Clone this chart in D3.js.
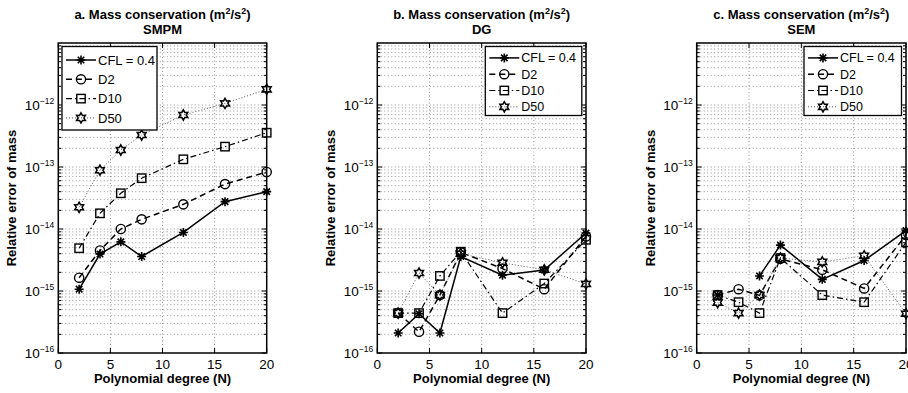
<!DOCTYPE html>
<html>
<head>
<meta charset="utf-8">
<script src="https://cdn.jsdelivr.net/npm/d3@7"></script>
<style>
  body { margin: 0; background: #fff; }
  text { font-family: "Liberation Sans", Arial, Helvetica, sans-serif; fill: #000; }
</style>
</head>
<body>
<svg width="908" height="393"></svg>
<script>
// polynomial degrees on the x axis
const degrees = [2, 4, 6, 8, 12, 16, 20];
const seriesNames = ["CFL = 0.4", "D2", "D10", "D50"];
const xTicks = [0, 5, 10, 15, 20];
const yDecades = [-16, -15, -14, -13, -12];

// a. SMPM
const smpmCFL = [1.07e-15, 3.95e-15, 6.2e-15, 3.6e-15, 8.8e-15, 2.76e-14, 4.0e-14];
const smpmD2  = [1.64e-15, 4.5e-15, 1.0e-14, 1.43e-14, 2.5e-14, 5.3e-14, 8.3e-14];
const smpmD10 = [4.9e-15, 1.79e-14, 3.77e-14, 6.6e-14, 1.33e-13, 2.13e-13, 3.57e-13];
const smpmD50 = [2.24e-14, 8.9e-14, 1.88e-13, 3.28e-13, 6.9e-13, 1.06e-12, 1.79e-12];

// b. DG
const dgCFL = [2.1e-16, 4.3e-16, 2.1e-16, 3.6e-15, 1.8e-15, 2.18e-15, 8.6e-15];
const dgD2  = [4.4e-16, 2.2e-16, 8.6e-16, 4.2e-15, 2.3e-15, 1.07e-15, 7.6e-15];
const dgD10 = [4.4e-16, 4.4e-16, 1.75e-15, 4.3e-15, 4.4e-16, 1.32e-15, 6.7e-15];
const dgD50 = [4.4e-16, 1.95e-15, 8.6e-16, 4.0e-15, 2.85e-15, 2.2e-15, 1.3e-15];

// c. SEM (null = not plotted)
const semCFL = [8.6e-16, null, 1.75e-15, 5.5e-15, 1.54e-15, 3.1e-15, 9.4e-15];
const semD2  = [8.6e-16, 1.07e-15, 8.5e-16, 3.3e-15, 2.2e-15, 1.1e-15, 8.0e-15];
const semD10 = [8.6e-16, 6.6e-16, 4.4e-16, 3.4e-15, 8.6e-16, 6.6e-16, 6.1e-15];
const semD50 = [6.5e-16, 4.4e-16, 8.6e-16, 3.4e-15, 2.95e-15, 3.7e-15, 4.3e-16];

const panels = [
  { title: "a. Mass conservation", method: "SMPM", left: 58.3, right: 266.7,
    series: [smpmCFL, smpmD2, smpmD10, smpmD50],
    legend: { x: 62, y: 46.5, w: 95, h: 83.5, row: 19.3, fs: 13 } },
  { title: "b. Mass conservation", method: "DG", left: 377.3, right: 586,
    series: [dgCFL, dgD2, dgD10, dgD50],
    legend: { x: 485.3, y: 46.5, w: 96.5, h: 69, row: 16.3, fs: 12.5 } },
  { title: "c. Mass conservation", method: "SEM", left: 696.7, right: 906,
    series: [semCFL, semD2, semD10, semD50],
    legend: { x: 804, y: 46.5, w: 97.5, h: 69, row: 16.3, fs: 12.5 } }
];

const plotTop = 43, plotBottom = 353;
const styles = [
  { dash: null, width: 1.5, color: "#000", marker: "asterisk" },
  { dash: "6,4", width: 1.5, color: "#000", marker: "circle" },
  { dash: "6,3,1.5,3", width: 1.2, color: "#000", marker: "square" },
  { dash: "1,2", width: 1, color: "#555", marker: "hexagram" }
];

const svg = d3.select("svg");

function drawMarker(g, type, x, y) {
  const m = g.append("g").attr("transform", `translate(${x},${y})`);
  if (type === "asterisk") {
    const r = 4.5, d = r * 0.72;
    m.append("path")
      .attr("d", `M${-r},0H${r}M0,${-r}V${r}M${-d},${-d}L${d},${d}M${-d},${d}L${d},${-d}`)
      .attr("stroke", "#000").attr("stroke-width", 1.6).attr("fill", "none");
  } else if (type === "circle") {
    m.append("circle").attr("r", 4.6)
      .attr("fill", "none").attr("stroke", "#000").attr("stroke-width", 1.4);
  } else if (type === "square") {
    m.append("rect").attr("x", -4.2).attr("y", -4.2).attr("width", 8.4).attr("height", 8.4)
      .attr("fill", "none").attr("stroke", "#000").attr("stroke-width", 1.4);
  } else {
    const pts = d3.range(12).map(i => {
      const a = -Math.PI / 2 + i * Math.PI / 6;
      const r = i % 2 === 0 ? 5.1 : 2.9;
      return [r * Math.cos(a), r * Math.sin(a)];
    });
    m.append("path").attr("d", "M" + pts.join("L") + "Z")
      .attr("fill", "none").attr("stroke", "#000").attr("stroke-width", 1.5);
  }
}

panels.forEach(p => {
  const x = d3.scaleLinear().domain([0, 20]).range([p.left, p.right]);
  const y = d3.scaleLog().domain([1e-16, 1e-11]).range([plotBottom, plotTop]);
  const g = svg.append("g");

  // grid
  const minor = [];
  yDecades.forEach(d => d3.range(1, 10).forEach(k => minor.push(k * Math.pow(10, d))));
  g.selectAll("line.hgrid").data(minor.filter(v => v > 1e-16)).enter().append("line")
    .attr("x1", p.left).attr("x2", p.right)
    .attr("y1", d => y(d)).attr("y2", d => y(d))
    .attr("stroke", "#777").attr("stroke-width", 0.8).attr("stroke-dasharray", "1,2.5");
  g.selectAll("line.vgrid").data(xTicks.slice(1, -1)).enter().append("line")
    .attr("x1", d => x(d)).attr("x2", d => x(d))
    .attr("y1", plotTop).attr("y2", plotBottom)
    .attr("stroke", "#777").attr("stroke-width", 0.8).attr("stroke-dasharray", "1,2.5");

  // ticks (inward, both sides)
  minor.forEach(v => {
    const len = Math.abs(Math.log10(v) - Math.round(Math.log10(v))) < 1e-9 ? 5 : 3;
    [[p.left, len], [p.right, -len]].forEach(([x0, l]) => {
      g.append("line").attr("x1", x0).attr("x2", x0 + l)
        .attr("y1", y(v)).attr("y2", y(v)).attr("stroke", "#000").attr("stroke-width", 1);
    });
  });
  xTicks.forEach(t => {
    g.append("line").attr("x1", x(t)).attr("x2", x(t)).attr("y1", plotBottom).attr("y2", plotBottom - 5)
      .attr("stroke", "#000");
    g.append("line").attr("x1", x(t)).attr("x2", x(t)).attr("y1", plotTop).attr("y2", plotTop + 5)
      .attr("stroke", "#000");
    g.append("text").attr("x", x(t)).attr("y", 369).attr("text-anchor", "middle")
      .attr("font-size", 13.5).text(t);
  });
  yDecades.forEach(d => {
    const t = g.append("text").attr("x", p.left - 4).attr("y", y(Math.pow(10, d)) + 5)
      .attr("text-anchor", "end").attr("font-size", 13.5);
    t.append("tspan").text("10");
    t.append("tspan").attr("dy", -6).attr("font-size", 8.5).text("\u2212" + (-d));
  });

  // box
  g.append("rect").attr("x", p.left).attr("y", plotTop)
    .attr("width", p.right - p.left).attr("height", plotBottom - plotTop)
    .attr("fill", "none").attr("stroke", "#000").attr("stroke-width", 1.5);

  // series
  const line = d3.line().defined(d => d[1] != null).x(d => x(d[0])).y(d => y(d[1]));
  p.series.forEach((vals, i) => {
    const s = styles[i];
    const pts = degrees.map((n, j) => [n, vals[j]]);
    g.append("path").attr("d", line(pts)).attr("fill", "none")
      .attr("stroke", s.color).attr("stroke-width", s.width)
      .attr("stroke-dasharray", s.dash);
    pts.filter(d => d[1] != null).forEach(d => drawMarker(g, s.marker, x(d[0]), y(d[1])));
  });

  // legend
  const L = p.legend;
  g.append("rect").attr("x", L.x).attr("y", L.y).attr("width", L.w).attr("height", L.h)
    .attr("fill", "#fff").attr("stroke", "#000").attr("stroke-width", 1.3);
  seriesNames.forEach((name, i) => {
    const s = styles[i];
    const ry = L.y + L.row * 0.7 + i * L.row;
    g.append("line").attr("x1", L.x + 4).attr("x2", L.x + 34).attr("y1", ry).attr("y2", ry)
      .attr("stroke", s.color).attr("stroke-width", s.width).attr("stroke-dasharray", s.dash);
    drawMarker(g, s.marker, L.x + 19, ry);
    g.append("text").attr("x", L.x + 36).attr("y", ry + L.fs * 0.36)
      .attr("font-size", L.fs).text(name);
  });

  // titles and labels
  const cx = (p.left + p.right) / 2;
  const tt = g.append("text").attr("x", cx).attr("y", 19).attr("text-anchor", "middle")
    .attr("font-size", 13).attr("font-weight", "bold");
  tt.append("tspan").text(p.title + " (m");
  tt.append("tspan").attr("dy", -5).attr("font-size", 9).text("2");
  tt.append("tspan").attr("dy", 5).text("/s");
  tt.append("tspan").attr("dy", -5).attr("font-size", 9).text("2");
  tt.append("tspan").attr("dy", 5).text(")");
  g.append("text").attr("x", cx).attr("y", 33.5).attr("text-anchor", "middle")
    .attr("font-size", 13).attr("font-weight", "bold").text(p.method);
  g.append("text").attr("x", cx).attr("y", 383).attr("text-anchor", "middle")
    .attr("font-size", 13).attr("font-weight", "bold").text("Polynomial degree (N)");
  g.append("text").attr("transform", `translate(${p.left - 42},${(plotTop + plotBottom) / 2}) rotate(-90)`)
    .attr("text-anchor", "middle").attr("font-size", 13).attr("font-weight", "bold")
    .text("Relative error of mass");
});
</script>
</body>
</html>
